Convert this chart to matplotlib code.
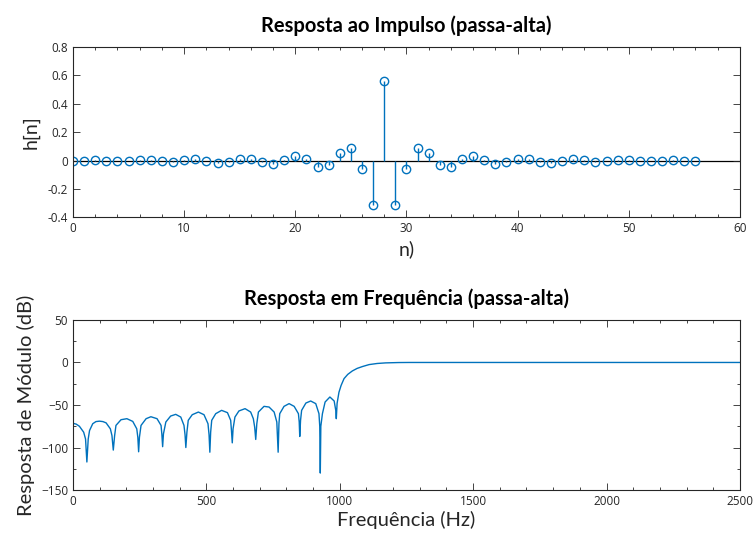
import matplotlib
matplotlib.use("Agg")
import matplotlib.pyplot as plt
from matplotlib.ticker import MultipleLocator

# --- DATA ---
# impulse response, 57 taps, linear phase (symmetric around n = 28)
n = list(range(57))
h = [0.000, 0.000, 0.002, 0.000, -0.005, -0.002, 0.005, 0.005, -0.005, -0.010,
     0.002, 0.010, 0.000, -0.016, -0.010, 0.014, 0.014, -0.014, -0.028, 0.005,
     0.033, 0.010, -0.047, -0.035, 0.052, 0.087, -0.059, -0.313, 0.560, -0.313,
     -0.059, 0.087, 0.052, -0.035, -0.047, 0.010, 0.033, 0.005, -0.028, -0.014,
     0.014, 0.014, -0.010, -0.016, 0.000, 0.010, 0.002, -0.010, -0.005, 0.005,
     0.005, -0.002, -0.005, 0.000, 0.002, 0.000, 0.000]

# magnitude response (Hz, dB)
freq_hz = [0, 12, 24, 40, 47, 52, 57, 62, 74, 86, 99, 112, 124, 140, 146, 151,
           156, 161, 180, 202, 224, 239, 243, 246, 249, 255, 274, 292, 315, 330,
           333, 336, 339, 348, 366, 385, 404, 416, 420, 423, 427, 432, 447, 470,
           491, 506, 510, 513, 516, 520, 535, 557, 579, 591, 594, 597, 600, 607,
           622, 645, 666, 676, 681, 685, 689, 695, 716, 735, 754, 764, 769, 772,
           775, 791, 810, 829, 845, 848, 850, 853, 857, 873, 891, 910, 922, 925,
           927, 929, 935, 945, 963, 979, 985, 987, 990, 997, 1005, 1016, 1030,
           1047, 1065, 1085, 1110, 1140, 1172, 1220, 1260, 2500]
mag_db = [-71.5, -72.5, -75, -82, -90, -117, -90, -80, -72, -69.5, -69, -69.5,
          -71, -78, -86, -103, -86, -74, -67.3, -66.1, -69.3, -78, -88, -105,
          -88, -74, -66.1, -63.8, -66.1, -74, -84, -99, -84, -70, -63, -61,
          -64.2, -74, -85, -100, -82, -68, -61.4, -58.3, -61.4, -72, -85,
          -105.5, -82, -68, -60.2, -56.3, -59, -68, -80, -94.5, -78, -64.2,
          -57, -54.3, -58.3, -66.1, -76, -90.5, -72, -58.3, -51.6, -52.4,
          -58.3, -70, -105.5, -72, -60.2, -51.6, -48.4, -51.6, -60.2, -70, -87,
          -68, -56.3, -47.7, -45.3, -48.4, -60.2, -75, -130, -75, -60.2, -46.5,
          -40.6, -45.3, -56.3, -66.1, -48, -35, -27, -19, -14, -10, -7, -4.8,
          -2.5, -1.2, -0.5, -0.1, 0, 0]

BLUE = "#0072BD"
TXT = "#262626"

plt.rcParams["font.family"] = ["Lato", "DejaVu Sans"]


def matlab_axes(ax):
    # boxed axes with ticks pointing in, like MATLAB
    for s in ax.spines.values():
        s.set_color(TXT)
        s.set_linewidth(0.8)
    ax.tick_params(which="both", direction="in", top=True, right=True,
                   colors=TXT, labelsize=8.5, width=0.6,
                   labelfontfamily="Open Sans")
    ax.tick_params(which="major", length=5)
    ax.tick_params(which="minor", length=2.5)


fig = plt.figure(figsize=(7.55, 5.35), dpi=100)
ax1 = fig.add_axes([0.0967, 0.594, 0.8833, 0.318])
ax2 = fig.add_axes([0.0967, 0.084, 0.8833, 0.318])

# --- impulse response ---
ax1.axhline(0, color="black", lw=0.9, zorder=1)
markers, stems, base = ax1.stem(n, h, linefmt="-", markerfmt="o", basefmt=" ")
plt.setp(stems, color=BLUE, linewidth=1.0)
plt.setp(markers, markerfacecolor="none", markeredgecolor=BLUE,
         markersize=6, markeredgewidth=1.0)
ax1.set_xlim(0, 60)
ax1.set_ylim(-0.4, 0.8)
ax1.xaxis.set_major_locator(MultipleLocator(10))
ax1.xaxis.set_minor_locator(MultipleLocator(2))
ax1.yaxis.set_major_locator(MultipleLocator(0.2))
ax1.yaxis.set_major_formatter(plt.FuncFormatter(
    lambda v, p: "0" if abs(v) < 1e-9 else f"{v:g}"))
matlab_axes(ax1)
ax1.set_title("Resposta ao Impulso (passa-alta)", fontsize=14.5,
              fontweight="bold", color="black", pad=11)
ax1.set_xlabel("n)", fontsize=14, color=TXT, labelpad=4)
ax1.set_ylabel("h[n]", fontsize=14, color=TXT, labelpad=6)

# --- magnitude response ---
ax2.plot(freq_hz, mag_db, color=BLUE, lw=1.0)
ax2.set_xlim(0, 2500)
ax2.set_ylim(-150, 50)
ax2.xaxis.set_major_locator(MultipleLocator(500))
ax2.xaxis.set_minor_locator(MultipleLocator(100))
ax2.yaxis.set_major_locator(MultipleLocator(50))
ax2.yaxis.set_minor_locator(MultipleLocator(25))
matlab_axes(ax2)
ax2.set_title("Resposta em Frequência (passa-alta)", fontsize=14.5,
              fontweight="bold", color="black", pad=11)
ax2.set_xlabel("Frequência (Hz)", fontsize=14.5, color=TXT, labelpad=2)
ax2.set_ylabel("Resposta de Módulo (dB)", fontsize=14.5, color=TXT,
               labelpad=4)

fig.savefig("out.png", dpi=100)
